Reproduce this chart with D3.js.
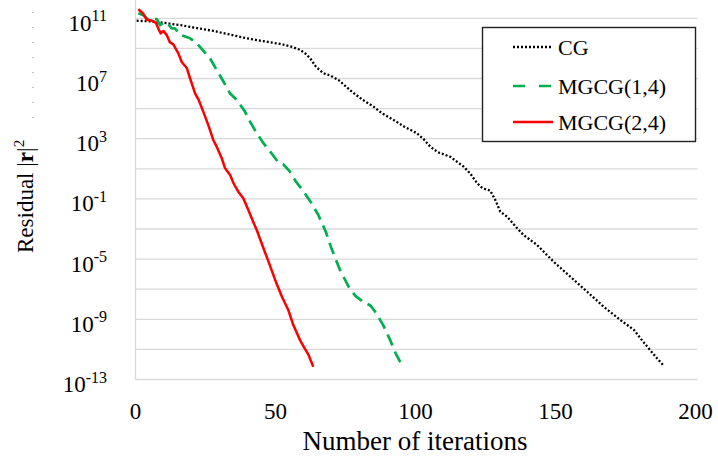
<!DOCTYPE html>
<html>
<head>
<meta charset="utf-8">
<script src="https://cdn.jsdelivr.net/npm/d3@7"></script>
<style>
  html, body { margin: 0; padding: 0; background: #fff; }
  svg { display: block; font-family: "Liberation Serif", "Times New Roman", serif; }
</style>
</head>
<body>
<svg id="chart" width="718" height="459"></svg>
<script>
// ---- data (iteration, log10 of residual) ----
const seriesNames = ["CG", "MGCG(1,4)", "MGCG(2,4)"];
const seriesColors = ["#000000", "#00b050", "#ff0000"];

const cgIter = [0.4, 5, 10, 15.9, 21, 27.8, 33, 39.7, 45, 51.6, 56, 58.8, 60.6, 62.4, 64.2, 65.5, 67.1, 69.5, 72.5, 77.3, 81, 85, 88, 92.2, 96, 100.5, 103, 105.3, 108, 112.4, 117.2, 119.5, 122, 124, 126.7, 128.5, 130.3, 132.7, 136.3, 138.6, 143.4, 149.3, 155.3, 161.3, 167.2, 173.2, 178, 180.5, 182.7, 184.5, 186.3, 188.7];
const cgLog = [10.84, 10.8, 10.7, 10.55, 10.38, 10.16, 9.95, 9.67, 9.5, 9.3, 9.1, 8.9, 8.67, 8.34, 7.85, 7.6, 7.35, 7.2, 6.9, 6.12, 5.6, 5.13, 4.7, 4.24, 3.8, 3.36, 2.95, 2.47, 2.1, 1.8, 1.14, 0.7, 0.04, -0.3, -0.45, -1.07, -1.85, -2.18, -2.95, -3.4, -4.06, -5.17, -6.17, -7.17, -8.16, -9.05, -9.7, -10.3, -10.8, -11.2, -11.6, -12.1];

const mg14Iter = [1, 2.8, 4.6, 7.6, 8.8, 10, 11.5, 12.9, 14.1, 15.9, 19.5, 21.9, 23, 26.6, 29, 31.4, 33.8, 36.2, 39.1, 40.9, 43.3, 45.7, 48.7, 51, 52.8, 55, 57.3, 60, 62.4, 65.3, 68, 70, 73, 76, 78.5, 81, 84, 86, 88.5, 91, 93, 95.6];
const mg14Log = [11.33, 11.2, 10.93, 10.95, 10.55, 10.7, 10.65, 10.33, 10.33, 9.9, 9.67, 9.34, 9.1, 8.34, 7.56, 6.8, 6.0, 5.57, 4.8, 4.13, 3.36, 2.7, 2.0, 1.42, 1.3, 0.85, 0.15, -0.5, -1.15, -2.07, -3.2, -4.3, -5.7, -6.8, -7.44, -7.8, -8.1, -8.6, -9.4, -10.4, -11.3, -12.2];

const mg24Iter = [1, 2.8, 4, 5.8, 7.3, 8.2, 9, 10, 11.1, 12.3, 13.5, 15.3, 16.5, 18.3, 19.5, 21.3, 22.5, 24.2, 26, 27.8, 29, 30.8, 32, 33.8, 35, 36.7, 38.5, 40.3, 42.2, 43.3, 45.7, 47.5, 49.9, 52.3, 54.6, 56.4, 58.8, 60, 61.8, 63.5];
const mg24Log = [11.6, 11.3, 10.9, 10.85, 10.7, 10.3, 10.0, 10.15, 9.9, 9.4, 9.27, 8.67, 8.1, 7.7, 7.0, 6.0, 5.6, 4.8, 3.9, 2.9, 2.47, 1.7, 1.03, 0.59, 0.04, -0.52, -0.96, -1.74, -2.6, -3.07, -4.28, -5.17, -6.4, -7.5, -8.4, -9.4, -10.4, -10.8, -11.37, -12.15];

const xTicks = [0, 50, 100, 150, 200];
const yLabelExps = [11, 7, 3, -1, -5, -9, -13];
const yGridExps = [11, 9, 7, 5, 3, 1, -1, -3, -5, -7, -9, -11, -13];

const xTitle = "Number of iterations";

// ---- layout ----
const svg = d3.select("#chart");
const left = 135.5, right = 697.5, bottom = 379.5, decade = 15.05;

const x = d3.scaleLinear().domain([0, 200]).range([left, 695.5]);
const y = d3.scaleLog().domain([1e-13, 1e13]).range([bottom, bottom - 26 * decade]);

// gridlines
svg.append("g").selectAll("line").data(yGridExps).join("line")
  .attr("x1", left).attr("x2", right)
  .attr("y1", d => y(Math.pow(10, d))).attr("y2", d => y(Math.pow(10, d)))
  .attr("stroke", "#d9d9d9").attr("stroke-width", 1.3);

// left axis line
svg.append("line").attr("x1", left).attr("x2", left).attr("y1", 0).attr("y2", bottom)
  .attr("stroke", "#d9d9d9").attr("stroke-width", 1.3);

// y labels 10^n
const yl = svg.append("g").attr("font-size", 23).attr("fill", "#000");
yLabelExps.forEach(e => {
  const t = yl.append("text").attr("x", 107).attr("y", y(Math.pow(10, e)) + 12.5)
    .attr("text-anchor", "end");
  t.append("tspan").text("10");
  t.append("tspan").attr("font-size", 16).attr("dy", -9.5).text(String(e));
});

// x labels
svg.append("g").selectAll("text").data(xTicks).join("text")
  .attr("x", d => x(d)).attr("y", 419)
  .attr("text-anchor", "middle").attr("font-size", 23).text(d => d);

// x title
svg.append("text").attr("x", 415).attr("y", 450).attr("text-anchor", "middle")
  .attr("font-size", 27).text(xTitle);

// y title
const yt = svg.append("text").attr("transform", "translate(33,253) rotate(-90)")
  .attr("font-size", 23);
yt.append("tspan").text("Residual ");
yt.append("tspan").text("|");
yt.append("tspan").attr("font-weight", "bold").text("r");
yt.append("tspan").text("|");
yt.append("tspan").attr("font-size", 15).attr("dy", -9).text("2");

// faint dotted artefact above the y title
svg.append("line").attr("x1", 33).attr("x2", 33).attr("y1", 12).attr("y2", 118)
  .attr("stroke", "#8a8a8a").attr("stroke-width", 1).attr("stroke-dasharray", "1,14");

// series
const line = d3.line().x(d => x(d[0])).y(d => y(Math.pow(10, d[1])));
const series = [
  { iter: cgIter, lg: cgLog, dash: "2,2", width: 2.3 },
  { iter: mg14Iter, lg: mg14Log, dash: "12,6.5", width: 2.7 },
  { iter: mg24Iter, lg: mg24Log, dash: null, width: 2.5 }
];
series.forEach((s, i) => {
  const pts = s.iter.map((v, k) => [v, s.lg[k]]);
  svg.append("path").datum(pts).attr("d", line)
    .attr("fill", "none").attr("stroke", seriesColors[i])
    .attr("stroke-width", s.width)
    .attr("stroke-dasharray", s.dash)
    .attr("stroke-linejoin", "round");
});

// legend
const lg = svg.append("g");
lg.append("rect").attr("x", 482.5).attr("y", 27.5).attr("width", 213).attr("height", 114)
  .attr("fill", "#fff").attr("stroke", "#222").attr("stroke-width", 1.4);
const rows = [47, 86, 122];
series.forEach((s, i) => {
  lg.append("line").attr("x1", 513).attr("x2", 553).attr("y1", rows[i]).attr("y2", rows[i])
    .attr("stroke", seriesColors[i]).attr("stroke-width", s.width)
    .attr("stroke-dasharray", i === 1 ? "12,14" : s.dash);
  lg.append("text").attr("x", 558).attr("y", rows[i] + 7.5).attr("font-size", 22)
    .text(seriesNames[i]);
});
</script>
</body>
</html>
